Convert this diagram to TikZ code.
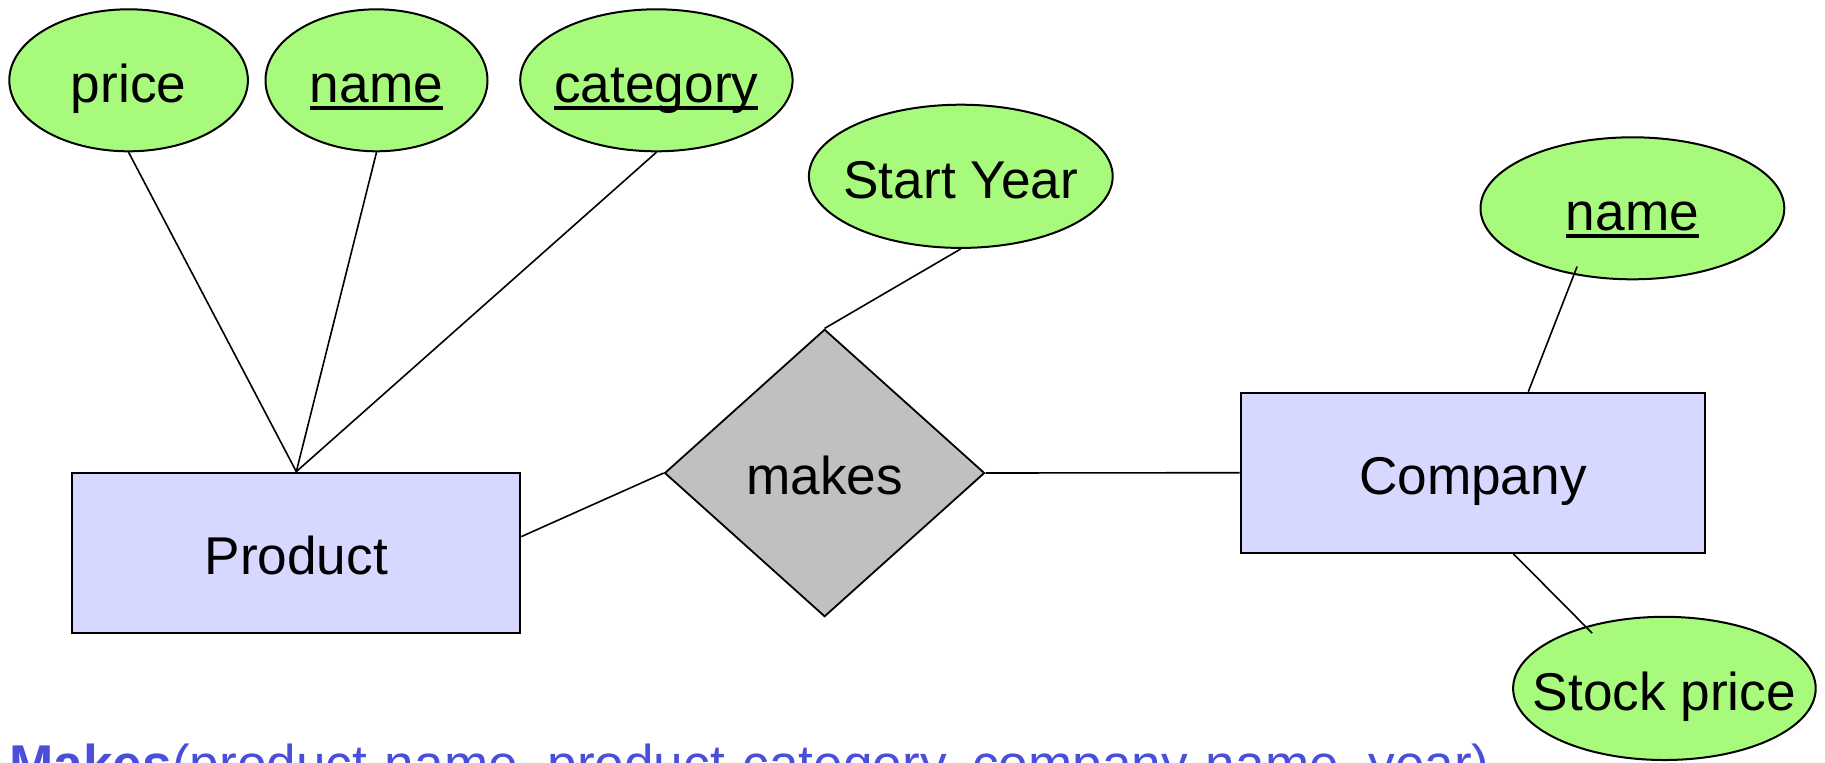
\documentclass[tikz,border=0pt]{standalone}
\usepackage{fontspec}
\setmainfont{Liberation Sans}
\usetikzlibrary{shapes.geometric,calc}
\definecolor{attrgreen}{RGB}{168,250,124}
\definecolor{entblue}{RGB}{214,216,255}
\definecolor{relgray}{RGB}{191,192,191}
\definecolor{captionblue}{RGB}{74,79,217}
\newcommand\keyul[1]{\setbox0\hbox{#1}\rlap{\rule[-0.143em]{\wd0}{0.07em}}\box0}
\begin{document}
\begin{tikzpicture}[x=0.5pt,y=-0.5pt,
  every node/.style={font=\fontsize{26.6pt}{31pt}\selectfont, text height=21.8pt, text depth=0pt, inner sep=0pt},
  attr/.style={ellipse, draw=black, line width=1pt, fill=attrgreen},
  entity/.style={rectangle, draw=black, line width=1pt, fill=entblue},
  rel/.style={diamond, draw=black, line width=0.9pt, fill=relgray},
  link/.style={draw=black, line width=0.8pt}]
\useasboundingbox (0,0) rectangle (1825,762);
\clip (0,0) rectangle (1825,762);
% attributes
\node[attr, minimum width=119.3pt, minimum height=71pt, label={center:price}] (price) at (128.6,80.3) {};
\node[attr, minimum width=111pt, minimum height=71pt, label={center:\keyul{name}}] (pname) at (376.5,80.3) {};
\node[attr, minimum width=136.2pt, minimum height=71pt, label={center:\keyul{category}}] (category) at (656.4,80.3) {};
\node[attr, minimum width=151.9pt, minimum height=71.6pt, label={center:Start Year}] (start) at (960.8,176.3) {};
\node[attr, minimum width=151.9pt, minimum height=71pt, label={center:\keyul{name}}] (cname) at (1632.4,208.3) {};
\node[attr, minimum width=151.3pt, minimum height=71.6pt, label={center:Stock price}] (stock) at (1664.4,688.4) {};
% entities and relationship
\node[entity, minimum width=224pt, minimum height=80.3pt] (product) at (296.3,552.9) {Product};
\node[entity, minimum width=232.2pt, minimum height=80pt] (company) at (1472.9,472.7) {Company};
\node[rel, minimum width=160pt, minimum height=143.7pt] (makes) at (824.6,473) {makes};
% connectors
\draw[link] (price.south) -- (product.north);
\draw[link] (pname.south) -- (product.north);
\draw[link] (category.south) -- (product.north);
\draw[link] ($(product.east)+(0,-16.3)$) -- (makes.west);
\draw[link] (makes.east) -- (company.west);
\draw[link] (makes.north) -- (start.south);
\draw[link] ($(company.north)+(55.4,0)$) -- ($(cname.center)+(-55.3,58.2)$);
\draw[link] ($(company.south)+(40.4,0)$) -- ($(stock.center)+(-72.2,-55.2)$);
% caption
\node[anchor=base west, text=captionblue, text height=, text depth=] (caption) at (9,782) {\textbf{Makes}(product-name, product-category, company-name, year)};
\end{tikzpicture}
\end{document}
